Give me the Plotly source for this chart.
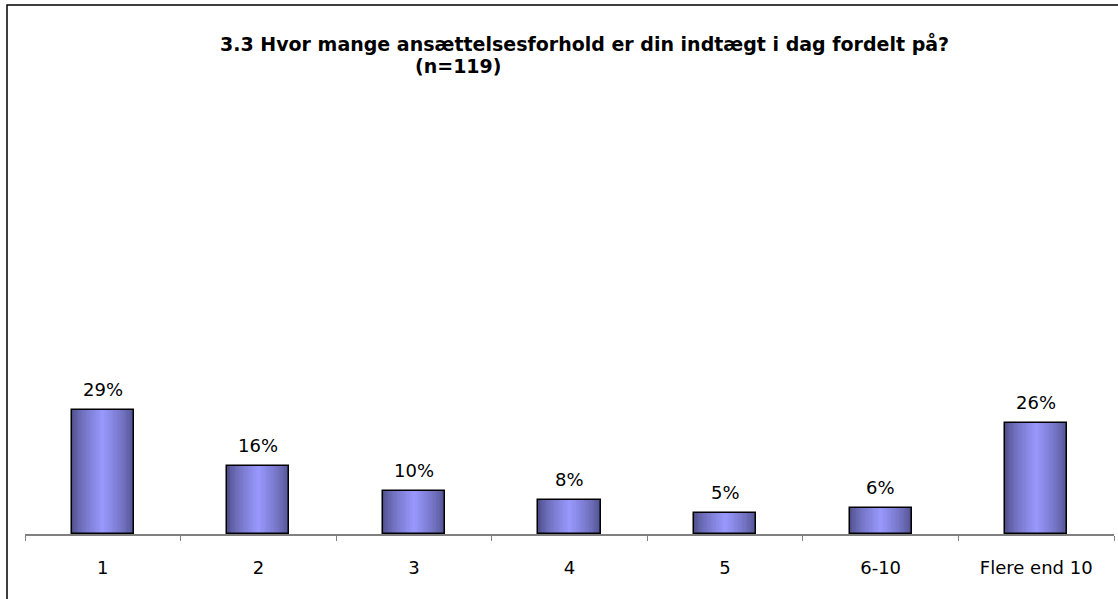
import plotly.graph_objects as go

categories = ["1", "2", "3", "4", "5", "6-10", "Flere end 10"]
shares = [29, 16, 10, 8, 5, 6, 26]
title_line1 = "3.3 Hvor mange ansættelsesforhold er din indtægt i dag fordelt på?"
title_line2 = "(n=119)"

W, H = 1118, 599
M = {"l": 25, "r": 4, "t": 235, "b": 65}
FONT = "DejaVu Sans, Verdana, sans-serif"
BAR_W = 0.4
DARK = (78, 78, 138)
LIGHT = (153, 153, 255)
STEPS = 24


def mix(t):
    r, g, b = (round(d + (l - d) * t) for d, l in zip(DARK, LIGHT))
    return f"rgb({r},{g},{b})"


fig = go.Figure()

# fake horizontal gradient: nested bars, light in the middle
for k in range(STEPS):
    frac = 1 - k / STEPS
    fig.add_trace(go.Bar(
        x=categories, y=shares, width=BAR_W * frac,
        marker={"color": mix((k / STEPS) ** 0.7), "line": {"width": 0}},
        hoverinfo="skip", showlegend=False,
    ))

# outline on top
fig.add_trace(go.Bar(
    x=categories, y=shares, width=BAR_W,
    marker={"color": "rgba(0,0,0,0)", "line": {"color": "black", "width": 1.5}},
    hoverinfo="skip", showlegend=False,
))

# value labels, a bit above the bars (category index, since "1" etc. look numeric)
for i, v in enumerate(shares):
    fig.add_annotation(
        x=i, y=v, text=f"{v}%", showarrow=False,
        yanchor="bottom", yshift=8,
        font={"size": 18, "color": "black", "family": FONT},
    )

pw = W - M["l"] - M["r"]
ph = H - M["t"] - M["b"]
fig.add_shape(
    type="rect", xref="paper", yref="paper",
    x0=(7 - M["l"]) / pw, x1=(W + 20 - M["l"]) / pw,
    y0=-(M["b"] + 20) / ph, y1=(H - 5 - M["b"]) / ph,
    line={"color": "black", "width": 1.5}, layer="below",
)

fig.add_annotation(
    text=f"<b>{title_line1}</b>", xref="paper", yref="paper",
    x=(584 - M["l"]) / pw, y=(H - 30 - M["b"]) / ph,
    showarrow=False, font={"size": 19, "family": FONT, "color": "black"},
)
fig.add_annotation(
    text=f"<b>{title_line2}</b>", xref="paper", yref="paper",
    x=(458 - M["l"]) / pw, y=(H - 53 - M["b"]) / ph,
    showarrow=False, font={"size": 19, "family": FONT, "color": "black"},
)

fig.update_layout(
    width=W, height=H, margin=M,
    barmode="overlay", bargap=0,
    paper_bgcolor="white", plot_bgcolor="white",
    font={"family": FONT, "size": 18, "color": "black"},
)
fig.update_xaxes(
    type="category",
    showline=True, linecolor="#808080", linewidth=1.5,
    ticks="outside", tickson="boundaries", ticklen=5, tickcolor="#808080",
    ticklabelstandoff=17, showgrid=False, zeroline=False,
)
fig.update_yaxes(visible=False, range=[0, 70], showgrid=False)

# page body has an 8px default margin; drop it so the chart sits at 0,0
fig.write_html(
    "out.html",
    post_script="document.body.style.margin='0';",
    config={"displayModeBar": False},
)
